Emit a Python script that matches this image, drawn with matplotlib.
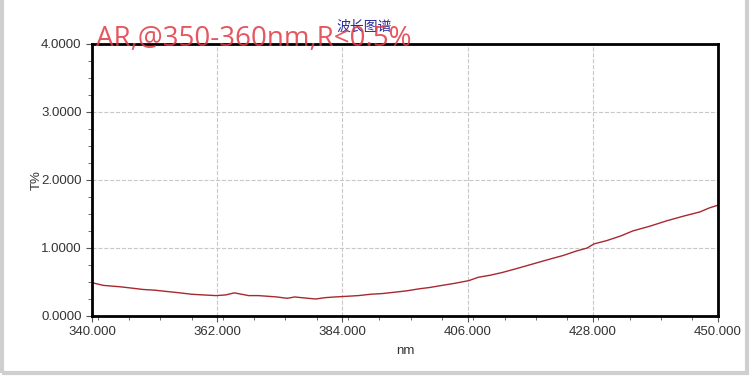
import matplotlib
matplotlib.use('Agg')
import matplotlib.pyplot as plt
from matplotlib.ticker import MultipleLocator, FormatStrFormatter
from matplotlib.patches import Rectangle

# values
wavelength = [340.0, 342.0, 344.9, 347.0, 349.0, 351.0, 353.2, 355.5, 357.5, 359.5,
              361.8, 363.5, 365.0, 366.3, 367.5, 369.2, 370.9, 372.5, 374.3, 375.6,
              376.8, 378.0, 379.3, 381.0, 382.7, 384.8, 386.8, 389.0, 391.0, 393.2,
              395.3, 397.5, 399.4, 401.5, 403.7, 406.2, 407.9, 410.0, 412.1, 414.3,
              416.4, 418.5, 420.6, 422.8, 424.9, 427.0, 428.2, 430.5, 433.0, 435.0,
              438.0, 441.0, 444.0, 446.8, 448.5, 450.0]
transmit = [0.49, 0.45, 0.43, 0.41, 0.39, 0.38, 0.36, 0.34, 0.32, 0.31,
            0.30, 0.31, 0.34, 0.32, 0.30, 0.30, 0.29, 0.28, 0.26, 0.28,
            0.27, 0.26, 0.25, 0.27, 0.28, 0.29, 0.30, 0.32, 0.33, 0.35,
            0.37, 0.40, 0.42, 0.45, 0.48, 0.52, 0.57, 0.60, 0.64, 0.69,
            0.74, 0.79, 0.84, 0.89, 0.95, 1.00, 1.06, 1.11, 1.18, 1.25,
            1.32, 1.40, 1.47, 1.53, 1.59, 1.63]

x_ticks = [340, 362, 384, 406, 428, 450]
y_ticks = [0, 1, 2, 3, 4]

plt.rcParams['font.family'] = ['Liberation Sans', 'DejaVu Sans']

fig = plt.figure(figsize=(7.5, 3.78), dpi=100)
ax = fig.add_axes([92 / 750, 1 - 316 / 378, 626 / 750, 272 / 378])

ax.plot(wavelength, transmit, color='#a82830', lw=1.0)
ax.set_xlim(340, 450)
ax.set_ylim(0, 4)
ax.set_xticks(x_ticks)
ax.set_yticks(y_ticks)
ax.xaxis.set_minor_locator(MultipleLocator(5.5))
ax.yaxis.set_minor_locator(MultipleLocator(0.25))
ax.xaxis.set_major_formatter(FormatStrFormatter('%.3f'))
ax.yaxis.set_major_formatter(FormatStrFormatter('%.4f'))
ax.grid(True, which='major', ls='--', color='#c8c8c8', lw=0.8)
ax.tick_params(which='both', direction='out', colors='#555555', labelcolor='#333333', labelsize=9.5)
ax.tick_params(which='major', length=4)
ax.tick_params(which='minor', length=3)
for s in ax.spines.values():
    s.set_linewidth(2)
    s.set_color('black')

ax.set_xlabel('nm', fontsize=9.5, color='#333333', labelpad=5)
ax.set_ylabel('T%', fontsize=9.5, color='#333333', labelpad=-1)

fig.text(364 / 750, 1 - 27 / 378, '波长图谱', fontsize=10, color='#2a2a9a',
         ha='center', va='center', family=['Noto Sans CJK SC', 'DejaVu Sans'])
fig.text(96 / 750, 1 - 46 / 378, 'AR,@350-360nm,R<0.5%', fontsize=20, color='#e03a44',
         alpha=0.85, ha='left', va='baseline', family='Open Sans')

# light grey frame of the window
fig.patches.append(Rectangle((2 / 750, 5 / 378), 745 / 750, 380 / 378, transform=fig.transFigure,
                             fill=False, edgecolor='#cfcfcf', lw=3))

fig.savefig('out.png', dpi=100)
